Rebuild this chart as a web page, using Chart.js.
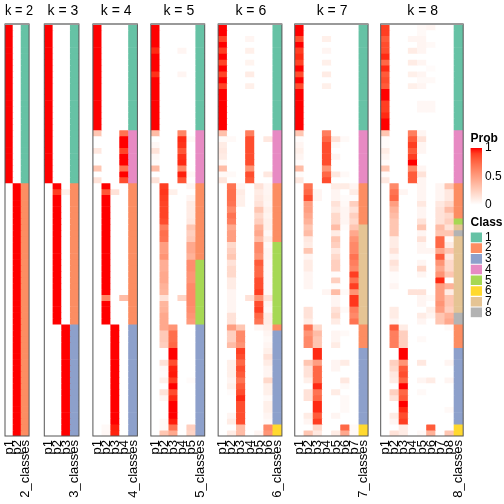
<!DOCTYPE html>
<html><head><meta charset="utf-8">
<script src="https://cdn.jsdelivr.net/npm/chart.js@4.4.0/dist/chart.umd.min.js"></script>
<style>
body{margin:0;background:#fff;width:504px;height:504px;overflow:hidden;position:relative;}
canvas{position:absolute;}
</style></head><body>
<script>
// ---------- DATA (rows 0-69, top to bottom) ----------
const ks = [2,3,4,5,6,7,8];
const labelsK2 = ["p1","p2","2_classes"];
const labelsK3 = ["p1","p2","p3","3_classes"];
const labelsK4 = ["p1","p2","p3","p4","4_classes"];
const labelsK5 = ["p1","p2","p3","p4","p5","5_classes"];
const labelsK6 = ["p1","p2","p3","p4","p5","p6","6_classes"];
const labelsK7 = ["p1","p2","p3","p4","p5","p6","p7","7_classes"];
const labelsK8 = ["p1","p2","p3","p4","p5","p6","p7","p8","8_classes"];

const classK2 = [1,1,1,1,1,1,1,1,1,1,1,1,1,1,1,1,1,1, 1,1,1,1,1,1,1,1,1,
 2,2,2,2,2,2,2,2,2,2,2,2,2,2,2,2,2,2,2,2,2,2,2,2,
 2,2,2,2,2,2,2,2,2,2,2,2,2,2,2,2,2,2,2];
const classK3 = [1,1,1,1,1,1,1,1,1,1,1,1,1,1,1,1,1,1, 1,1,1,1,1,1,1,1,1,
 2,2,2,2,2,2,2,2,2,2,2,2,2,2,2,2,2,2,2,2,2,2,2,2,
 3,3,3,3,3,3,3,3,3,3,3,3,3,3,3,3,3,3,3];
const classK4 = [1,1,1,1,1,1,1,1,1,1,1,1,1,1,1,1,1,1, 4,4,4,4,4,4,4,4,4,
 2,2,2,2,2,2,2,2,2,2,2,2,2,2,2,2,2,2,2,2,2,2,2,2,
 3,3,3,3,3,3,3,3,3,3,3,3,3,3,3,3,3,3,3];
const classK5 = [1,1,1,1,1,1,1,1,1,1,1,1,1,1,1,1,1,1, 4,4,4,4,4,4,4,4,4,
 2,2,2,2,2,2,2,2,2,2,2,2,2, 5,5,5,5,5,5,5,5,5,5,5,
 3,3,3,3,3,3,3,3,3,3,3,3,3,3,3,3,3,3,3];
const classK6 = [1,1,1,1,1,1,1,1,1,1,1,1,1,1,1,1,1,1, 4,4,4,4,4,4,4,4,4,
 2,2,2,2,2,2,2,2,2,2, 5,5,5,5,5,5,5,5,5,5,5,5,5,5,
 2, 3,3,3,3,3,3,3,3,3,3,3,3,3,3,3,3, 6,6];
const classK7 = [1,1,1,1,1,1,1,1,1,1,1,1,1,1,1,1,1,1, 4,4,4,4,4,4,4,4,4,
 2,2,2,2,2,2,2, 7,7,7,7,7,7,7,7,7,7,7,7,7,7,7,7,7,
 2,2,2,2, 3,3,3,3,3,3,3,3,3,3,3,3,3, 6,6];
const classK8 = [1,1,1,1,1,1,1,1,1,1,1,1,1,1,1,1,1,1, 4,4,4,4,4,4,4,4,4,
 2,2,2,2,2,2, 5, 7, 8, 7,7,7,7,7,7,7,7,7,7,7,7,7, 8,8,
 2,2,2,2, 3,3,3,3,3,3,3,3,3,3,3,3,3, 6,6];

const probK2 = [
 [1,1,1,1,1,1,1,1,1,1,1,1,1,1,1,1,1,1, 1,1,1,1,1,1,1,1,1,
  0,0,0,0,0,0,0,0,0,0,0,0,0,0,0,0,0,0,0,0,0,0,0,0,
  0,0,0,0,0,0,0,0,0,0,0,0,0,0,0,0,0,0,0],
 [0,0,0,0,0,0,0,0,0,0,0,0,0,0,0,0,0,0, 0,0,0,0,0,0,0,0,0,
  1,1,1,1,1,1,1,1,1,1,1,1,1,1,1,1,1,1,1,1,1,1,1,1,
  1,1,1,1,1,1,1,1,1,1,1,1,1,1,1,1,1,1,1]
];
const probK3 = [
 [1,1,1,1,1,1,1,1,1,1,1,1,1,1,1,1,1,1, 1,1,1,1,1,1,1,1,1,
  0,0,0,0,0,0,0,0,0,0,0,0,0,0,0,0,0,0,0,0,0,0,0,0,
  0,0,0,0,0,0,0,0,0,0,0,0,0,0,0,0,0,0,0],
 [0,0,0,0,0,0,0,0,0,0,0,0,0,0,0,0,0,0, 0,0,0,0,0,0,0,0,0,
  1,.9,1,1,1,1,1,1,1,1,1,1,1,1,1,1,1,1,1,1,1,1,1,1,
  0,0,0,0,0,0,0,0,0,0,0,0,0,0,0,0,0,0,0],
 [0,0,0,0,0,0,0,0,0,0,0,0,0,0,0,0,0,0, 0,0,0,0,0,0,0,0,0,
  0,.08,0,0,0,0,0,0,0,0,0,0,0,0,0,0,0,0,0,0,0,0,0,0,
  1,1,1,1,1,1,1,1,1,1,1,1,1,1,1,1,1,1,1]
];
const probK4 = [
 [1,1,1,1,1,1,1,1,1,1,1,1,1,1,1,1,1,1, .3,0,0,.12,0,0,.3,0,.15,
  0,0,0,0,0,0,0,0,0,0,0,0,0,0,0,0,0,0,0,0,0,0,0,0,
  0,0,0,0,0,0,0,0,0,0,0,0,0,0,0,0,0,0,0],
 [0,0,0,0,0,0,0,0,0,0,0,0,0,0,0,0,0,0, 0,0,0,0,0,0,0,0,0,
  1,.82,1,1,1,1,1,1,1,1,1,1,1,1,1,1,1,1,1,.62,1,1,1,1,
  0,0,0,0,0,0,0,0,0,0,0,0,0,0,0,0,0,.03,.04],
 [0,0,0,0,0,0,0,0,0,0,0,0,0,0,0,0,0,0, 0,0,0,0,0,0,0,0,0,
  0,.15,0,0,0,0,0,0,0,0,0,0,0,0,0,0,0,0,0,0,0,0,0,0,
  1,1,1,1,1,1,1,1,1,1,1,1,1,1,1,1,1,.97,.96],
 [0,0,0,0,0,0,0,0,0,0,0,0,0,0,0,0,0,0, .7,1,1,.88,1,1,.7,1,.85,
  0,0,0,0,0,0,0,0,0,0,0,0,0,0,0,0,0,0,0,.35,0,0,0,0,
  0,0,0,0,0,0,0,0,0,0,0,0,0,0,0,0,0,0,0]
];
const probK5 = [
 [1,1,1,1,.95,1,1,1,.93,1,1,1,1,1,1,1,1,1, .35,0,.04,.15,.04,.02,.35,0,.15,
  0,0,0,0,0,0,0,0,0,0,0,0,0,0,0,0,0,0,0,0,0,0,0,0,
  0,0,0,0,0,0,0,0,0,0,0,0,0,0,0,0,0,0,0],
 [0,0,0,0,0,0,0,0,0,0,0,0,0,0,0,0,0,0, 0,0,0,0,0,0,0,0,0,
  .9,.92,.9,.88,.88,.88,.85,.65,.72,.7,.5,.5,.55,.42,.42,.45,.45,.4,.38,.15,.38,.4,.45,.45,
  .45,.28,.28,.25,0,0,.15,.03,.02,.08,0,.15,.05,0,0,0,.03,.03,.3],
 [0,0,0,0,0,0,0,0,0,0,0,0,0,0,0,0,0,0, 0,0,0,0,0,0,0,0,0,
  0,.08,0,0,0,0,0,0,0,0,0,0,0,0,0,0,0,0,0,0,0,0,0,0,
  .55,.72,.72,.75,1,1,.85,.97,.98,.9,1,.85,.95,1,1,1,.97,.7,.45],
 [0,0,0,0,.05,0,0,0,.05,0,0,0,0,0,0,0,0,0, .62,.95,.93,.82,.93,.95,.6,.97,.82,
  0,0,0,0,0,0,0,0,0,0,0,0,0,0,0,0,0,0,0,.22,0,0,0,0,
  0,0,0,0,0,0,0,0,0,0,0,0,0,0,0,0,0,0,0],
 [0,0,0,0,0,0,0,0,0,0,0,0,0,0,0,0,0,0, 0,.03,0,0,0,0,0,.03,0,
  .05,0,.05,.1,.1,.1,.12,.3,.25,.28,.45,.45,.4,.58,.58,.55,.55,.6,.6,.6,.6,.58,.55,.52,
  0,0,0,0,0,0,0,0,0,.02,0,0,0,0,0,0,0,.25,.22]
];
const probK6 = [
 [1,1,.88,1,.9,1,.88,1,.88,1,.88,1,1,1,1,1,1,1, .33,.03,.1,.12,.1,.03,.35,.03,.13,
  0,0,0,0,0,0,0,0,0,0,0,0,0,0,0,0,0,0,0,0,0,0,0,0,
  0,0,0,0,0,0,0,0,0,0,0,0,0,0,0,0,0,0,0],
 [0,0,0,0,0,0,0,0,0,0,0,0,0,0,0,0,0,0, 0,.03,0,0,0,0,0,.03,0,
  .7,.72,.72,.7,.6,.7,.65,.45,.5,.5,.2,.25,.3,.15,.2,.2,.1,.1,.05,.05,.05,.05,.15,.15,
  .5,.25,.25,.35,0,0,.08,.08,.08,.05,.08,.02,0,0,0,.05,.1,0,.1],
 [0,0,0,0,0,0,0,0,0,0,0,0,0,0,0,0,0,0, 0,0,0,0,0,0,0,0,0,
  .05,.1,.08,.08,0,0,0,0,0,0,0,0,0,0,0,0,0,0,0,0,0,0,0,0,
  .3,.6,.6,.55,.9,.85,.75,.85,.8,.7,.8,.85,.95,.85,.85,.85,.85,.35,.35],
 [0,0,.05,0,.08,0,.06,0,.1,0,.08,0,0,0,0,0,0,0, .65,.85,.85,.85,.85,.85,.55,.85,.8,
  0,0,0,0,0,0,0,0,0,0,0,0,0,0,0,0,0,0,0,.15,0,0,0,0,
  0,0,0,0,0,0,0,0,0,0,0,0,0,0,0,0,0,0,0],
 [0,0,0,0,0,0,0,0,0,0,0,0,0,0,0,0,0,0, 0,0,0,0,0,0,0,0,0,
  .15,.1,.12,.15,.3,.2,.25,.4,.45,.35,.6,.6,.55,.8,.75,.75,.85,.85,.9,.55,.85,.9,.75,.7,
  .05,0,0,0,0,0,0,0,0,0,0,0,0,0,0,0,0,0,.05],
 [0,0,0,0,0,0,0,0,0,0,0,0,0,0,0,0,0,0, 0,.12,0,0,0,0,0,.12,0,
  .05,.05,.06,.05,.08,.06,.08,.08,.04,.1,.03,.05,.05,.03,.03,.03,.03,.03,.03,.15,.05,.03,.1,.1,
  .08,.05,.03,.05,.08,.15,.1,.05,.05,.2,.08,.08,.03,.08,.08,.05,.03,.6,.55]
];
const probK7 = [
 [1,1,.85,1,.9,.95,.88,1,.85,1,.85,1,1,1,1,1,1,1, .3,.02,.05,.08,.05,.02,.35,.02,.12,
  0,0,0,0,0,0,0,0,0,0,0,0,0,0,0,0,0,0,0,0,0,0,0,0,
  0,0,0,0,0,0,0,0,0,0,0,0,0,0,0,0,0,0,0],
 [0,0,0,0,0,0,0,0,0,0,0,0,0,0,0,0,0,0, 0,0,0,0,0,0,0,0,0,
  .7,.75,.85,.5,.5,.45,.4,.3,.35,.12,.1,.3,.05,.1,.1,.05,.05,.05,0,0,0,.15,.15,.1,
  .7,.55,.6,.6,0,0,.3,.15,.15,.08,0,.15,.15,0,0,.1,.05,0,.3],
 [0,0,0,0,0,0,0,0,0,0,0,0,0,0,0,0,0,0, 0,0,0,0,0,0,0,0,0,
  0,.05,.05,0,0,0,0,0,0,0,0,0,0,0,0,0,0,0,0,0,0,0,0,0,
  .2,.35,.3,.3,.95,.95,.5,.75,.75,.75,.95,.7,.75,.95,.95,.8,.9,.2,.12],
 [0,0,.08,0,.05,0,.08,0,.1,0,.08,0,0,0,0,0,0,0, .65,.75,.85,.85,.85,.85,.55,.75,.85,
  0,0,0,0,0,0,0,0,0,0,0,0,0,0,0,0,0,0,.05,0,0,0,0,0,
  0,0,0,0,0,0,0,0,0,0,0,0,0,0,0,0,0,0,0],
 [0,0,0,0,0,0,0,0,0,0,0,0,0,0,0,0,0,0, 0,.15,.03,0,.05,0,0,.12,0,
  .1,.05,.05,.15,.1,.2,.2,.35,.1,.3,.25,.12,.2,.25,.25,.02,.25,.02,.35,.05,.05,.15,.2,.1,
  0,.05,.05,.1,0,0,.05,.05,0,0,0,.1,0,0,0,.05,0,0,.1],
 [0,0,0,0,0,0,0,0,0,0,0,0,0,0,0,0,0,0, 0,.03,0,0,0,0,0,.03,0,
  .1,0,.02,.03,.05,.05,.05,.02,0,0,0,0,0,0,0,0,0,0,.03,0,0,.03,0,0,
  0,.03,0,0,0,0,.1,0,0,.12,.03,0,.03,.03,.03,0,0,.75,.45],
 [0,0,0,0,0,0,0,0,0,0,0,0,0,0,0,0,0,0, 0,0,0,0,0,0,0,0,0,
  .05,.1,.02,.25,.15,.25,.2,.3,.45,.55,.6,.6,.7,.65,.6,.9,.7,.9,.55,.92,.92,.65,.6,.7,
  0,0,0,0,0,0,0,0,0,0,0,0,0,0,0,0,0,.03,.03]
];
const probK8 = [
 [.9,.9,.8,.85,.85,.95,.75,.95,.8,.85,.8,1,1,.9,.9,.95,1,1, .3,.02,.02,.1,.05,.02,.3,.02,.12,
  0,0,0,0,0,0,0,0,0,0,0,0,0,0,0,0,0,0,0,0,0,0,0,0,
  0,0,0,0,0,0,0,0,0,0,0,0,0,0,0,0,0,0,0],
 [0,0,0,0,0,0,0,0,0,0,0,0,0,0,0,0,0,0, 0,0,0,0,0,0,0,0,0,
  .6,.7,.75,.5,.4,.35,.3,.3,.3,.1,.1,.15,.05,.15,.1,.02,.02,.05,0,0,0,.1,.1,.05,
  .8,.65,.65,.65,0,0,.25,.2,.12,.1,0,.25,.15,0,0,.1,.05,0,.15],
 [0,0,0,0,0,0,0,0,0,0,0,0,0,0,0,0,0,0, 0,0,0,0,0,0,0,0,0,
  0,.05,0,0,0,0,0,0,0,0,0,0,0,0,0,0,0,0,0,0,0,0,0,0,
  .1,.25,.25,.25,1,1,.55,.8,.85,.75,1,.75,.8,1,.95,.85,.9,.1,.1],
 [0,0,.05,0,.1,0,.1,0,.08,0,.08,0,0,0,0,0,0,0, .65,.8,.9,.8,.9,1,.6,.8,.8,
  0,0,0,0,0,0,0,0,0,0,0,0,0,0,0,0,0,0,.15,0,0,0,0,0,
  0,0,0,0,0,0,0,0,0,0,0,0,0,0,0,0,0,0,0],
 [.03,.03,.05,.05,.05,0,.05,0,.05,.03,.05,0,0,.04,.04,0,0,0, .05,.15,.05,.05,0,0,.05,.15,.05,
  .05,.05,.05,.12,.05,.05,.15,.3,.05,.15,.05,.05,0,.05,.2,.05,0,0,.15,.05,.05,0,.1,.05,
  0,0,.03,0,0,0,.12,0,0,.05,0,.03,0,0,0,0,0,0,.03],
 [.05,0,0,.03,0,0,0,.02,0,.03,0,0,0,.04,.04,0,0,0, 0,0,0,0,0,0,0,0,0,
  0,0,0,0,0,0,0,0,0,0,0,.05,0,0,0,0,0,0,0,.03,0,.08,.05,0,
  0,0,0,0,0,0,0,0,0,.1,0,0,0,0,0,0,0,.8,.4],
 [0,0,0,0,0,0,0,0,0,0,0,0,0,0,0,0,0,0, 0,0,0,0,0,0,0,0,0,
  .05,.05,.05,.12,.15,.15,.15,.35,.3,.75,.75,.45,.8,.55,.45,.55,.95,.5,.5,.5,.55,.5,.3,.3,
  0,0,0,0,0,0,0,0,0,0,0,0,0,0,0,0,0,0,0],
 [0,0,0,0,0,0,0,0,0,0,0,0,0,0,0,0,0,0, 0,0,0,0,0,0,0,0,0,
  .3,.12,.12,.2,.35,.2,.25,.15,.3,.03,.1,.3,.12,.2,.2,.3,0,.4,.1,.3,.3,.25,.4,.45,
  .03,0,0,0,0,0,.05,0,0,.05,0,0,0,0,.03,0,0,0,.3]
];

const probLegendTicks = [0, 0.5, 1];
const classLegendLabels = ["1","2","3","4","5","6","7","8"];
const classLegendValues = [1,1,1,1,1,1,1,1];

// ---------- STYLE ----------
const FONT = '"Liberation Sans", Arial, Helvetica, sans-serif';
Chart.defaults.font.family = FONT;
Chart.defaults.color = '#000';
Chart.defaults.animation = false;
const classColors = ['#66C2A5','#FC8D62','#8DA0CB','#E78AC3','#A6D854','#FFD92F','#E5C494','#B3B3B3'];

function probColor(t){
  t = Math.max(0, Math.min(1, t || 0));
  const L = 100 - 46.7592*t, a = 80.0925*t, b = 67.2032*t;
  const fy = (L+16)/116, fx = fy + a/500, fz = fy - b/200;
  const finv = f => { const f3 = f*f*f; return f3 > 0.008856 ? f3 : (f - 16/116)/7.787; };
  const X = 0.95047*finv(fx), Y = finv(fy), Z = 1.08883*finv(fz);
  const r = 3.2406*X - 1.5372*Y - 0.4986*Z;
  const g = -0.9689*X + 1.8758*Y + 0.0415*Z;
  const bl = 0.0557*X - 0.2040*Y + 1.0570*Z;
  const gam = c => { c = Math.max(0, Math.min(1, c)); return Math.round(255*(c <= 0.0031308 ? 12.92*c : 1.055*Math.pow(c, 1/2.4) - 0.055)); };
  return 'rgb(' + gam(r) + ',' + gam(g) + ',' + gam(bl) + ')';
}

const frame = {
  id: 'frame',
  afterDatasetsDraw(chart){
    const {ctx, chartArea: a} = chart;
    ctx.save();
    ctx.strokeStyle = '#555';
    ctx.lineWidth = 1;
    ctx.strokeRect(a.left, a.top, a.right - a.left, a.bottom - a.top);
    ctx.strokeStyle = '#999';
    ctx.lineWidth = 2;
    ctx.beginPath(); ctx.moveTo(a.left, a.top); ctx.lineTo(a.right, a.top); ctx.stroke();
    ctx.restore();
  }
};

function addCanvas(left, top, w, h){
  const cv = document.createElement('canvas');
  cv.width = w; cv.height = h;
  cv.style.left = left + 'px'; cv.style.top = top + 'px';
  cv.style.width = w + 'px'; cv.style.height = h + 'px';
  document.body.appendChild(cv);
  return cv;
}

// ---------- PANELS ----------
const probSets = [probK2, probK3, probK4, probK5, probK6, probK7, probK8];
const classSets = [classK2, classK3, classK4, classK5, classK6, classK7, classK8];
const labelSets = [labelsK2, labelsK3, labelsK4, labelsK5, labelsK6, labelsK7, labelsK8];
const COL = 9.33, GAP = 11.3, X0 = 5, SIDE = 14;
let xPos = X0;
ks.forEach((k, i) => {
  const labels = labelSets[i], probs = probSets[i], cls = classSets[i];
  const w = labels.length * COL;
  const cl = Math.floor(xPos) - SIDE, cr = Math.ceil(xPos + w) + SIDE;
  const cv = addCanvas(cl, 0, cr - cl, 504);
  const nRows = cls.length;
  const datasets = cls.map((c, r) => ({
    data: labels.map(() => [r, r + 1]),
    backgroundColor: labels.map((_, j) => j < k ? probColor(probs[j][r]) : classColors[c - 1]),
    grouped: false, barPercentage: 1, categoryPercentage: 1, borderWidth: 0
  }));
  new Chart(cv, {
    type: 'bar',
    data: { labels, datasets },
    options: {
      responsive: false, animation: false,
      layout: { padding: { left: xPos - cl, right: cr - (xPos + w), top: 0, bottom: 0 } },
      plugins: {
        legend: { display: false }, tooltip: { enabled: false },
        title: { display: true, text: 'k = ' + k, color: '#000',
          font: { size: 14, weight: 'normal', family: FONT, lineHeight: 1 },
          padding: { top: 4, bottom: 6 } }
      },
      scales: {
        x: { type: 'category', offset: true,
          grid: { display: false, drawTicks: false }, border: { display: false },
          ticks: { autoSkip: false, minRotation: 90, maxRotation: 90, padding: 4, color: '#000',
            font: { size: 13, family: FONT } },
          afterFit: s => { s.height = 68; } },
        y: { type: 'linear', min: 0, max: nRows, reverse: true, display: false }
      }
    },
    plugins: [frame]
  });
  xPos += w + GAP;
});

// ---------- LEGEND: Prob ----------
(function(){
  const cv = addCanvas(460, 133, 44, 82);
  new Chart(cv, {
    type: 'bar',
    data: { labels: ['Prob'], datasets: [{
      data: [[probLegendTicks[0], probLegendTicks[probLegendTicks.length - 1]]],
      backgroundColor: (c) => {
        const a = c.chart.chartArea; if (!a) return '#f88';
        const g = c.chart.ctx.createLinearGradient(0, a.bottom, 0, a.top);
        for (let s = 0; s <= 10; s++) g.addColorStop(s/10, probColor(s/10));
        return g;
      },
      barPercentage: 1, categoryPercentage: 1, borderWidth: 0 }] },
    options: {
      responsive: false, animation: false,
      layout: { padding: { left: 10.5, right: 0, top: 0, bottom: 8 } },
      plugins: { legend: { display: false }, tooltip: { enabled: false },
        title: { display: true, text: 'Prob', align: 'start', color: '#000',
          font: { size: 12, weight: 'bold', family: FONT, lineHeight: 1 }, padding: { top: 0, bottom: 3 } } },
      scales: {
        x: { display: false },
        y: { position: 'right', min: 0, max: 1,
          afterBuildTicks: s => { s.ticks = probLegendTicks.map(v => ({ value: v })); },
          grid: { display: false, drawTicks: false }, border: { display: false },
          ticks: { autoSkip: false, padding: 3, color: '#000', font: { size: 12, family: FONT },
            callback: v => String(v) },
          afterFit: s => { s.width = 22; } }
      }
    }
  });
})();

// ---------- LEGEND: Class ----------
(function(){
  const cv = addCanvas(460, 214, 44, 114);
  new Chart(cv, {
    type: 'bar',
    data: { labels: classLegendLabels, datasets: [{
      data: classLegendValues, backgroundColor: classColors,
      barPercentage: 0.9, categoryPercentage: 1, borderWidth: 0 }] },
    options: {
      indexAxis: 'y', responsive: false, animation: false,
      layout: { padding: { left: 10.5, right: 0, top: 0, bottom: 4 } },
      plugins: { legend: { display: false }, tooltip: { enabled: false },
        title: { display: true, text: 'Class', align: 'start', color: '#000',
          font: { size: 12, weight: 'bold', family: FONT, lineHeight: 1 }, padding: { top: 3, bottom: 3 } } },
      scales: {
        x: { display: false, min: 0, max: 1 },
        y: { position: 'right', grid: { display: false, drawTicks: false }, border: { display: false },
          ticks: { autoSkip: false, padding: 3, color: '#000', font: { size: 12, family: FONT } },
          afterFit: s => { s.width = 22; } }
      }
    }
  });
})();
</script>
</body></html>
